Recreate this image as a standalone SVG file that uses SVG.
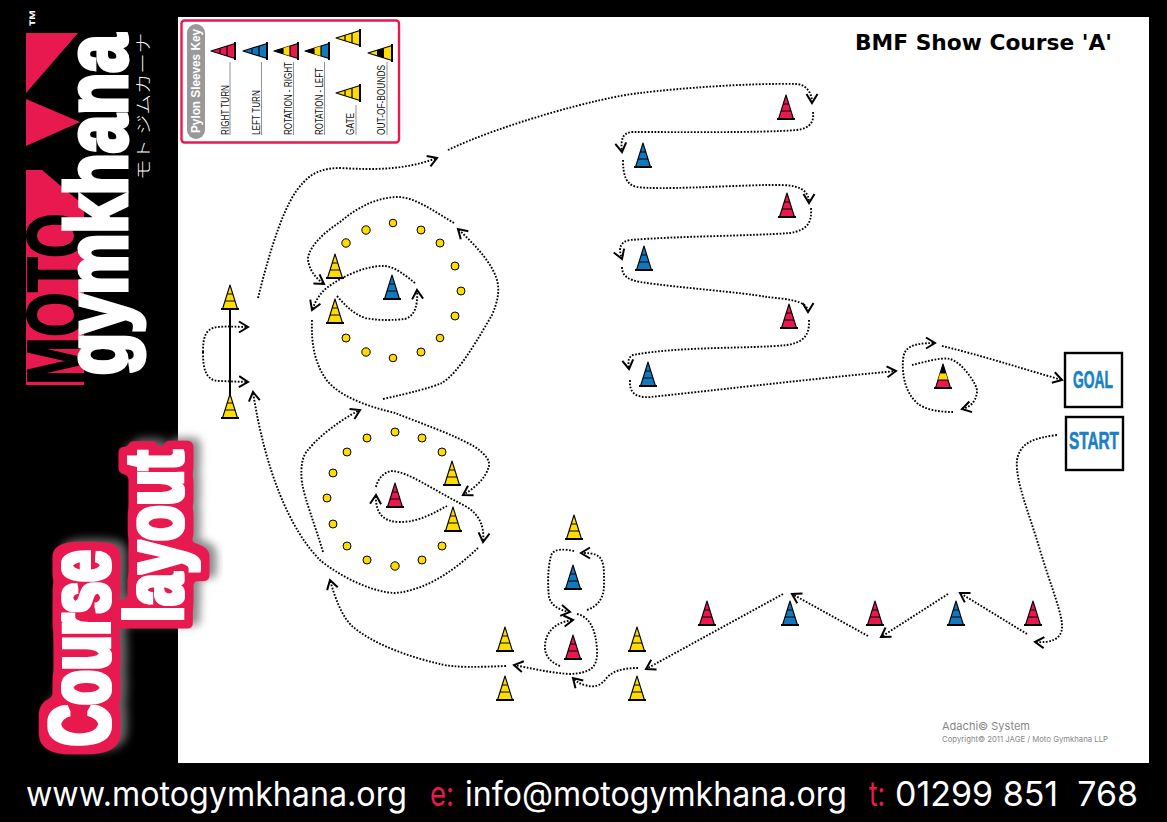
<svg xmlns="http://www.w3.org/2000/svg" width="1167" height="822" viewBox="0 0 1167 822">
<style>
.flow{fill:none;stroke:#000;stroke-width:1.9;stroke-dasharray:1.7 1.6;marker-end:url(#arr)}
.dot{fill:#ffdc00;stroke:#000;stroke-width:1}
.o{stroke:#000;stroke-width:1.1;stroke-linejoin:round}
.b{stroke:#000;stroke-width:1.2;fill:none}
.base{stroke:#000;stroke-width:2;fill:none}
.r{fill:#e8194f}.u{fill:#1278bd}.y{fill:#ffdc00}.k{fill:#000}
.key{font-family:"Liberation Sans",Arial,sans-serif;font-size:10px;fill:#111}
.lead{stroke:#777;stroke-width:.8}
.foot{font-family:"Inter","Liberation Sans",sans-serif;font-size:34px;fill:#fff}
.box{fill:#fff;stroke:#000;stroke-width:2.4}
.sign{font-family:"Liberation Sans",Arial,sans-serif;font-weight:700;font-size:24px;fill:#1a7fc4;stroke:#1a7fc4;stroke-width:.6}
.heavy{font-family:"Liberation Sans",Arial,sans-serif;font-weight:700;fill:#fff}
</style>
<defs>
<marker id="arr" markerUnits="userSpaceOnUse" markerWidth="16" markerHeight="16" refX="11" refY="8" orient="auto" overflow="visible">
<path d="M2,2.5 L11,8 L2,13.5" fill="none" stroke="#000" stroke-width="2"/>
</marker>
<filter id="halo" x="-25%" y="-15%" width="150%" height="130%" color-interpolation-filters="sRGB">
<feMorphology in="SourceAlpha" operator="dilate" radius="1.7" result="fat"/>
<feFlood flood-color="#fff"/><feComposite in2="fat" operator="in" result="white"/>
<feMorphology in="SourceAlpha" operator="dilate" radius="9.5" result="wide"/>
<feGaussianBlur in="wide" stdDeviation="2.5"/>
<feComponentTransfer result="round"><feFuncA type="linear" slope="6" intercept="-2"/></feComponentTransfer>
<feFlood flood-color="#e8194f"/><feComposite in2="round" operator="in" result="red"/>
<feGaussianBlur in="round" stdDeviation="4"/><feOffset dx="7" dy="-3" result="sb"/>
<feFlood flood-color="#777" flood-opacity=".85"/><feComposite in2="sb" operator="in" result="shade"/>
<feMerge><feMergeNode in="shade"/><feMergeNode in="red"/><feMergeNode in="white"/></feMerge>
</filter>
<g id="c-red"><path class="o r" d="M0,-24 L7.500,0 L-7.500,0Z"/><path class="b" d="M-5,-8 H5 M-2.800,-15 H2.800"/><path class="base" d="M-9,0 H9"/></g>
<g id="c-blue"><path class="o u" d="M0,-24 L7.500,0 L-7.500,0Z"/><path class="b" d="M-5,-8 H5 M-2.800,-15 H2.800"/><path class="base" d="M-9,0 H9"/></g>
<g id="c-yellow"><path class="o y" d="M0,-24 L7.500,0 L-7.500,0Z"/><path class="b" d="M-5,-8 H5 M-2.800,-15 H2.800"/><path class="base" d="M-9,0 H9"/></g>
<g id="c-rot-r"><path class="o r" d="M0,-24 L7.500,0 L-7.500,0Z"/><path class="y" d="M-2.800,-15 H2.800 L5,-8 H-5Z"/><path class="k" d="M0,-24 L2.800,-15 H-2.800Z"/><path class="b" d="M-5,-8 H5 M-2.800,-15 H2.800"/><path class="base" d="M-9,0 H9"/></g>
<g id="c-rot-l"><path class="o u" d="M0,-24 L7.500,0 L-7.500,0Z"/><path class="y" d="M-2.800,-15 H2.800 L5,-8 H-5Z"/><path class="k" d="M0,-24 L2.800,-15 H-2.800Z"/><path class="b" d="M-5,-8 H5 M-2.800,-15 H2.800"/><path class="base" d="M-9,0 H9"/></g>
<g id="c-oob"><path class="o y" d="M0,-24 L7.500,0 L-7.500,0Z"/><path class="k" d="M-2.800,-15 H2.800 L5,-8 H-5Z"/><path class="base" d="M-9,0 H9"/></g>
</defs>

<rect width="1167" height="822" fill="#000"/>
<rect x="178" y="17" width="971" height="746" fill="#fff"/>

<g id="logo">
<path class="r" d="M26,33 H78 L26,93Z M26,99 L80,122 L26,146Z M26,170 H42 L68,192 L84,205 V385 H26Z"/>
<text transform="translate(83,385) rotate(-90) scale(.72,1)" font-family="Liberation Sans,Arial,sans-serif" font-weight="700" font-size="80" fill="#000" stroke="#000" stroke-width="2">MOTO</text>
<text transform="translate(126,375) rotate(-90) scale(.81,1)" font-family="Liberation Sans,Arial,sans-serif" font-weight="700" font-size="85" fill="#fff" stroke="#fff" stroke-width="5" stroke-linejoin="miter">gymkhana</text>
<text transform="translate(149,180) rotate(-90)" font-family="Noto Sans CJK JP,sans-serif" font-weight="300" font-size="16" fill="#fff" textLength="147" lengthAdjust="spacingAndGlyphs">モト ジムカーナ</text>
<text transform="translate(42,27) rotate(-90)" font-family="Liberation Sans,Arial,sans-serif" font-weight="700" font-size="18" fill="#fff">™</text>
</g>

<g id="course-layout">
<g filter="url(#halo)"><text class="heavy" transform="translate(109,746) rotate(-90) scale(.66,1)" font-size="86">Course</text></g>
<g filter="url(#halo)"><text class="heavy" transform="translate(182,622) rotate(-90) scale(.71,1)" font-size="82">layout</text></g>
</g>

<g id="key">
<rect x="181.500" y="20.500" width="217.500" height="122" rx="3" fill="#fff" stroke="#e8194f" stroke-width="2.4"/>
<rect x="187" y="24" width="18" height="115" rx="9" fill="#999"/>
<text transform="translate(200,133) rotate(-90)" font-family="Liberation Sans,Arial,sans-serif" font-weight="700" font-size="13" fill="#fff" textLength="104" lengthAdjust="spacingAndGlyphs">Pylon Sleeves Key</text>
<use href="#c-red" transform="translate(235,51) rotate(-90)"/>
<use href="#c-blue" transform="translate(267,51) rotate(-90)"/>
<use href="#c-rot-r" transform="translate(298,51) rotate(-90)"/>
<use href="#c-rot-l" transform="translate(329,51) rotate(-90)"/>
<use href="#c-yellow" transform="translate(360,38) rotate(-90)"/>
<use href="#c-yellow" transform="translate(360,93) rotate(-90)"/>
<use href="#c-oob" transform="translate(392,53) rotate(-90)"/>
<path class="lead" d="M230,62 V135 M261.500,62 V135 M293.500,62 V135 M324.500,62 V135 M356,105 V135 M387,62 V135"/>
<text class="key" transform="translate(229,135) rotate(-90)" textLength="50" lengthAdjust="spacingAndGlyphs">RIGHT TURN</text>
<text class="key" transform="translate(260,135) rotate(-90)" textLength="45" lengthAdjust="spacingAndGlyphs">LEFT TURN</text>
<text class="key" transform="translate(292,135) rotate(-90)" textLength="73" lengthAdjust="spacingAndGlyphs">ROTATION - RIGHT</text>
<text class="key" transform="translate(323,135) rotate(-90)" textLength="67" lengthAdjust="spacingAndGlyphs">ROTATION - LEFT</text>
<text class="key" transform="translate(354,135) rotate(-90)" textLength="22" lengthAdjust="spacingAndGlyphs">GATE</text>
<text class="key" transform="translate(385,135) rotate(-90)" textLength="70" lengthAdjust="spacingAndGlyphs">OUT-OF-BOUNDS</text>
</g>

<text id="title" x="855" y="50" font-family="DejaVu Sans,Verdana,sans-serif" font-weight="700" font-size="21" fill="#000" textLength="257" lengthAdjust="spacingAndGlyphs">BMF Show Course 'A'</text>

<g id="connectors">
<path d="M230,308 V398" stroke="#000" stroke-width="2" fill="none"/>
<path class="flow" d="M203,352 C203,338 205,328 218,327 C228,326 238,327 248,327"/>
<path class="flow" d="M203,352 C203,368 205,381 220,381 L248,382"/>
<path class="flow" d="M258,298 C270,250 285,200 303,183 C312,172 325,168 340,168 C375,170 405,170 437,158"/>
<path class="flow" d="M448,150 C500,125 600,97 640,93 C680,88 750,83 797,84 C806,85 812,92 812,103"/>
<path class="flow" d="M813,112 C814,120 812,128 797,130 C760,133 680,132 633,132 C624,132 620,138 622,152"/>
<path class="flow" d="M623,160 C623,175 626,185 637,187 C660,190 720,186 767,185 C785,185 809,183 809,203"/>
<path class="flow" d="M811,208 C812,222 808,230 790,233 C750,236 680,236 630,240 C620,242 618,248 622,259"/>
<path class="flow" d="M622,267 C622,277 630,280 640,282 C680,288 740,292 767,297 C785,299 808,300 808,312"/>
<path class="flow" d="M809,320 C810,338 800,343 787,345 C750,349 680,346 633,355 C628,357 628,362 629,369"/>
<path class="flow" d="M630,380 C629,392 635,398 650,397 C700,392 800,380 896,371"/>
<path class="flow" d="M912,365 C925,362 940,357 950,359 C962,362 978,385 977,392 C976,402 970,407 962,409"/>
<path class="flow" d="M953,412 C940,412 925,410 917,403 C905,392 902,375 903,360 C904,348 910,343 935,343"/>
<path class="flow" d="M942,346 C980,355 1020,368 1062,380"/>
<path class="flow" d="M1057,435 C1035,438 1020,442 1017,460 C1015,480 1028,510 1040,550 C1052,590 1063,615 1062,628 C1061,640 1050,643 1035,642"/>
<path class="flow" d="M1027,634 L960,593"/>
<path class="flow" d="M948,594 L881,637"/>
<path class="flow" d="M868,636 L792,594"/>
<path class="flow" d="M783,594 L646,669"/>
<path class="flow" d="M638,668 C625,668 612,670 605,680 C600,686 593,688 585,685 C580,684 577,682 573,678"/>
<path class="flow" d="M560,666 C550,662 544,655 545,645 C546,632 555,622 573,620"/>
<path class="flow" d="M577,614 C590,617 596,630 597,650 C598,668 590,673 570,674 C550,673 530,668 514,665"/>
<path class="flow" d="M587,610 C598,606 604,598 604,585 C604,572 605,558 596,555 C592,553 587,553 581,553"/>
<path class="flow" d="M574,551 C565,549 553,548 551,556 C547,570 548,590 549,597 C551,605 558,610 570,612"/>
<path class="flow" d="M506,666 C480,667 455,668 440,664 C410,657 375,645 353,627 C342,617 335,598 330,580"/>
<path class="flow" d="M323,552 C315,525 305,500 302,483 C300,465 303,455 308,450 C318,437 340,420 360,410"/>
<path class="flow" d="M312,320 C311,345 315,365 328,382 C345,400 375,408 395,413 C420,423 455,435 475,447 C487,455 490,462 489,466 C486,478 475,488 463,495"/>
<path class="flow" d="M447,506 C435,512 420,522 400,522 C385,522 375,515 376,495"/>
<path class="flow" d="M376,487 C378,478 385,471 393,471 C410,473 430,488 467,507 C478,514 485,525 483,542"/>
<path class="flow" d="M478,548 C460,565 430,590 395,593 C370,592 338,575 320,560 C290,530 265,470 253,392"/>
<path class="flow" d="M383,399 C410,393 430,388 442,383 C460,372 480,335 492,315 C497,303 499,295 498,285 C495,265 475,245 458,229"/>
<path class="flow" d="M454,223 C435,212 415,197 398,197 C380,197 360,205 340,222 C325,232 310,245 308,258 C308,268 315,278 324,284"/>
<path class="flow" d="M415,283 C405,275 395,267 385,266 C365,265 340,278 328,287 C320,293 316,300 312,310"/>
<path class="flow" d="M337,296 C345,305 352,313 365,318 C380,321 395,320 405,319 C415,316 418,305 417,290"/>
</g>

<g id="ring-upper">
<circle class="dot" cx="393" cy="223" r="3.800"/><circle class="dot" cx="366" cy="230" r="4.200"/><circle class="dot" cx="346" cy="243" r="4.200"/><circle class="dot" cx="421" cy="230" r="4"/><circle class="dot" cx="440" cy="243" r="4"/><circle class="dot" cx="455" cy="266" r="4"/><circle class="dot" cx="461" cy="291" r="4"/><circle class="dot" cx="455" cy="316" r="4"/><circle class="dot" cx="440" cy="338" r="3.800"/><circle class="dot" cx="421" cy="352" r="4"/><circle class="dot" cx="393" cy="358" r="3.800"/><circle class="dot" cx="366" cy="352" r="4.200"/><circle class="dot" cx="346" cy="338" r="4"/>
</g>
<g id="ring-lower">
<circle class="dot" cx="395" cy="432" r="4"/><circle class="dot" cx="367" cy="438" r="4"/><circle class="dot" cx="347" cy="452" r="4"/><circle class="dot" cx="333" cy="473" r="4"/><circle class="dot" cx="327" cy="498" r="4"/><circle class="dot" cx="333" cy="524" r="4"/><circle class="dot" cx="347" cy="546" r="4"/><circle class="dot" cx="367" cy="560" r="4"/><circle class="dot" cx="395" cy="566" r="4.200"/><circle class="dot" cx="422" cy="560" r="4"/><circle class="dot" cx="442" cy="546" r="4"/><circle class="dot" cx="422" cy="438" r="4"/><circle class="dot" cx="442" cy="452" r="4"/>
</g>

<g id="cones">
<g id="gate-1a"><use href="#c-yellow" x="230" y="309"/></g>
<g id="gate-1b"><use href="#c-yellow" x="230" y="418"/></g>
<g id="oob-u1"><use href="#c-yellow" x="335" y="278"/></g>
<g id="oob-u2"><use href="#c-yellow" x="335" y="323"/></g>
<g id="cone-u"><use href="#c-blue" x="392" y="299"/></g>
<g id="oob-l1"><use href="#c-yellow" x="452" y="485"/></g>
<g id="oob-l2"><use href="#c-yellow" x="453" y="531"/></g>
<g id="cone-l"><use href="#c-red" x="395" y="507"/></g>
<g id="oob-s"><use href="#c-yellow" x="574" y="539"/></g>
<g id="cone-s1"><use href="#c-blue" x="573" y="589"/></g>
<g id="cone-s2"><use href="#c-red" x="573" y="659"/></g>
<g id="gate-2a"><use href="#c-yellow" x="505" y="651"/></g>
<g id="gate-2b"><use href="#c-yellow" x="505" y="700"/></g>
<g id="gate-3a"><use href="#c-yellow" x="637" y="651"/></g>
<g id="gate-3b"><use href="#c-yellow" x="637" y="700"/></g>
<g id="zig-1"><use href="#c-red" x="707" y="625"/></g>
<g id="zig-2"><use href="#c-blue" x="790" y="625"/></g>
<g id="zig-3"><use href="#c-red" x="875" y="625"/></g>
<g id="zig-4"><use href="#c-blue" x="956" y="625"/></g>
<g id="zig-5"><use href="#c-red" x="1033" y="625"/></g>
<g id="w-1"><use href="#c-red" x="786" y="119"/></g>
<g id="w-2"><use href="#c-blue" x="643" y="167"/></g>
<g id="w-3"><use href="#c-red" x="787" y="217"/></g>
<g id="w-4"><use href="#c-blue" x="644" y="270"/></g>
<g id="w-5"><use href="#c-red" x="789" y="328"/></g>
<g id="w-6"><use href="#c-blue" x="648" y="386"/></g>
<g id="rot-1"><use href="#c-rot-r" x="943" y="388"/></g>
</g>

<g id="goal"><rect class="box" x="1065" y="353" width="57" height="54"/><text class="sign" x="1073" y="388" textLength="40" lengthAdjust="spacingAndGlyphs">GOAL</text></g>
<g id="start"><rect class="box" x="1066" y="417" width="57" height="53"/><text class="sign" x="1069" y="449" textLength="50" lengthAdjust="spacingAndGlyphs">START</text></g>

<g id="credit" font-family="Inter,Liberation Sans,sans-serif" fill="#888">
<text x="942" y="730" font-size="11" textLength="88" lengthAdjust="spacingAndGlyphs">Adachi© System</text>
<text x="942" y="742" font-size="8" textLength="166" lengthAdjust="spacingAndGlyphs">Copyright© 2011 JAGE / Moto Gymkhana LLP</text>
</g>

<g id="footer">
<text class="foot" x="26" y="806" textLength="381" lengthAdjust="spacingAndGlyphs">www.motogymkhana.org</text>
<text class="foot" x="430" y="806" textLength="24" lengthAdjust="spacingAndGlyphs" style="fill:#e8194f">e:</text>
<text class="foot" x="465" y="806" textLength="382" lengthAdjust="spacingAndGlyphs">info@motogymkhana.org</text>
<text class="foot" x="869" y="806" textLength="16" lengthAdjust="spacingAndGlyphs" style="fill:#e8194f">t:</text>
<text class="foot" x="895" y="806" textLength="243" lengthAdjust="spacingAndGlyphs" xml:space="preserve">01299 851  768</text>
</g>
</svg>
